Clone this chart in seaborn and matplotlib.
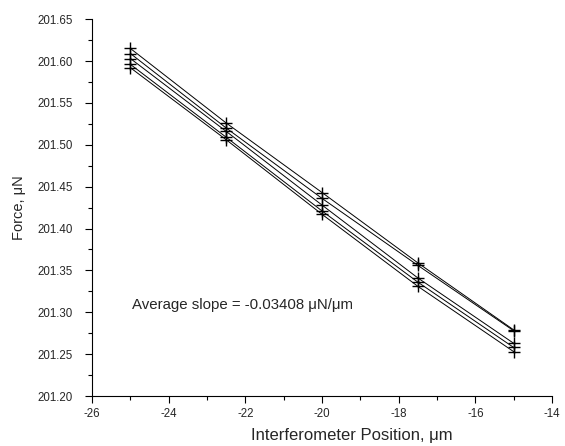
import matplotlib
matplotlib.use("Agg")
import matplotlib.pyplot as plt
import pandas as pd
import seaborn as sns
from matplotlib.ticker import MultipleLocator, FormatStrFormatter

# posições do interferômetro (um) e força medida (uN) em cada varredura
posicao = [-25.0, -22.5, -20.0, -17.5, -15.0]
varredura_1 = [201.615, 201.526, 201.443, 201.359, 201.279]
varredura_2 = [201.609, 201.520, 201.436, 201.356, 201.278]
varredura_3 = [201.603, 201.516, 201.428, 201.341, 201.263]
varredura_4 = [201.596, 201.509, 201.421, 201.336, 201.258]
varredura_5 = [201.592, 201.506, 201.417, 201.331, 201.253]
inclinacao_media = -0.03408

varreduras = [varredura_1, varredura_2, varredura_3, varredura_4, varredura_5]
df = pd.concat(
    [
        pd.DataFrame({"pos": posicao, "forca": v, "run": i})
        for i, v in enumerate(varreduras)
    ],
    ignore_index=True,
)

sns.set_style("ticks")
plt.rcParams["font.family"] = ["Liberation Sans", "DejaVu Sans"]

fig = plt.figure(figsize=(5.65, 4.46), dpi=100)
ax = fig.add_axes([0.163, 0.112, 0.814, 0.845])

for run, grupo in df.groupby("run"):
    sns.lineplot(
        data=grupo,
        x="pos",
        y="forca",
        ax=ax,
        color="black",
        linewidth=0.7,
        marker="+",
        markersize=8,
        markeredgewidth=1.0,
        markeredgecolor="black",
        legend=False,
    )

ax.text(
    -24.95,
    201.309,
    f"Average slope = {inclinacao_media:.5f} μN/μm",
    fontsize=10.8,
    va="center",
    ha="left",
)

ax.set_xlim(-26, -14)
ax.set_ylim(201.20, 201.65)
ax.xaxis.set_major_locator(MultipleLocator(2))
ax.xaxis.set_minor_locator(MultipleLocator(1))
ax.yaxis.set_major_locator(MultipleLocator(0.05))
ax.yaxis.set_minor_locator(MultipleLocator(0.025))
ax.yaxis.set_major_formatter(FormatStrFormatter("%.2f"))
ax.xaxis.set_major_formatter(FormatStrFormatter("%d"))
ax.tick_params(which="both", direction="out", labelsize=8.3, width=0.8, color="black")
ax.tick_params(which="major", length=5)
ax.tick_params(axis="y", which="major", pad=9)
ax.tick_params(which="minor", length=3)
for lado in ["left", "bottom"]:
    ax.spines[lado].set_linewidth(0.8)
    ax.spines[lado].set_color("black")
sns.despine(ax=ax)

ax.set_xlabel("Interferometer Position, μm", fontsize=12, labelpad=10)
ax.xaxis.set_label_coords(0.565, -0.085)
ax.set_ylabel("Force, μN", fontsize=10.5, labelpad=8)

fig.savefig("out.png", dpi=100)
